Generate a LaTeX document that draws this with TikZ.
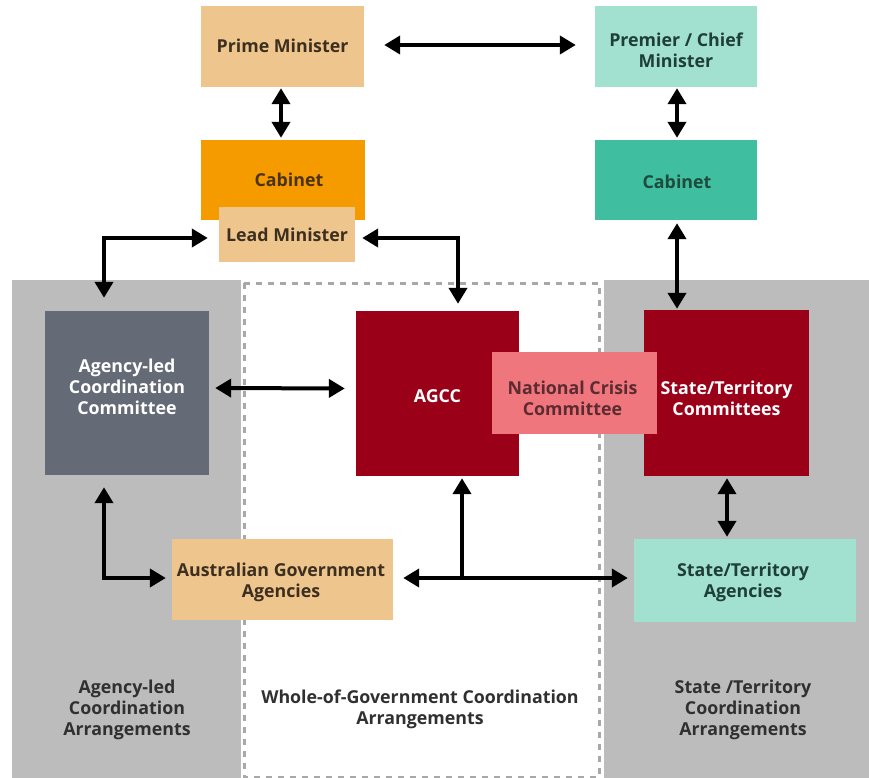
\documentclass[tikz,border=0pt]{standalone}
\usepackage{fontspec}
\setmainfont{Open Sans}
\usetikzlibrary{arrows.meta}
\definecolor{tanfill}{HTML}{EEC68D}
\definecolor{tantext}{HTML}{3C2F20}
\definecolor{mintfill}{HTML}{A2E0D0}
\definecolor{minttext}{HTML}{1E3F37}
\definecolor{orangefill}{HTML}{F59B00}
\definecolor{orangetext}{HTML}{4B3214}
\definecolor{tealfill}{HTML}{3FBF9F}
\definecolor{tealtext}{HTML}{1F4A3E}
\definecolor{panelgray}{HTML}{BCBCBC}
\definecolor{dashgray}{HTML}{A8A8A8}
\definecolor{slatefill}{HTML}{646B76}
\definecolor{redfill}{HTML}{9A0018}
\definecolor{pinkfill}{HTML}{F0767E}
\definecolor{pinktext}{HTML}{5B2B30}
\definecolor{labeltext}{HTML}{303030}
\begin{document}
\begin{tikzpicture}[x=1pt,y=-1pt,
  box/.style={draw=none, inner sep=0pt},
  txt/.style={inner sep=0pt, align=center, font=\bfseries\fontsize{17.8}{21}\selectfont},
  lbl/.style={txt, text=labeltext},
  arr/.style={line width=4pt, {Triangle[length=16pt,width=18pt]}-{Triangle[length=16pt,width=18pt]}},
  onearr/.style={line width=4pt, -{Triangle[length=16pt,width=18pt]}},
  panel/.style={fill=panelgray},
  dashbox/.style={draw=dashgray, line width=3pt, dash pattern=on 6pt off 6pt}
  ]
\useasboundingbox (0,0) rectangle (869,778);
% background panels
\fill[panel] (12,280) rectangle (241,778);
\fill[panel] (604,280) rectangle (869,778);
\draw[dashbox] (244,283) rectangle (599,777);
% boxes
\node[box, fill=tanfill, minimum width=163pt, minimum height=81pt] (pm) at (282.5,46.5) {};
\node[txt, text=tantext] (pmT) at (282.5,46) {Prime Minister};
\node[box, fill=mintfill, minimum width=162pt, minimum height=81pt] (prem) at (676,46.5) {};
\node[txt, text=minttext] (premT) at (676,50) {Premier / Chief\\Minister};
\node[box, fill=orangefill, minimum width=164pt, minimum height=80pt] (cabL) at (283,180) {};
\node[txt, text=orangetext] (cabLT) at (289,180) {Cabinet};
\node[box, fill=tanfill, minimum width=136pt, minimum height=55pt] (lead) at (287,234.5) {};
\node[txt, text=tantext] (leadT) at (287,235) {Lead Minister};
\node[box, fill=tealfill, minimum width=162pt, minimum height=80pt] (cabR) at (676,180) {};
\node[txt, text=tealtext] (cabRT) at (677,182) {Cabinet};
\node[box, fill=slatefill, minimum width=164pt, minimum height=164pt] (alcc) at (127,393) {};
\node[txt, text=white] (alccT) at (127,387) {Agency-led\\Coordination\\Committee};
\node[box, fill=redfill, minimum width=163pt, minimum height=165pt] (agcc) at (437.5,393.5) {};
\node[txt, text=white] (agccT) at (437.5,396) {AGCC};
\node[box, fill=redfill, minimum width=165pt, minimum height=166pt] (stc) at (726.5,393) {};
\node[txt, text=white] (stcT) at (726.5,398) {State/Territory\\Committees};
\node[box, fill=pinkfill, minimum width=165pt, minimum height=82pt] (ncc) at (574.5,393) {};
\node[txt, text=pinktext] (nccT) at (572.5,398.5) {National Crisis\\Committee};
\node[box, fill=tanfill, minimum width=221pt, minimum height=81pt] (aga) at (282.5,579.5) {};
\node[txt, text=tantext] (agaT) at (281,582.5) {Australian Government\\Agencies};
\node[box, fill=mintfill, minimum width=222pt, minimum height=83pt] (sta) at (745,580.5) {};
\node[txt, text=minttext] (staT) at (743,582.5) {State/Territory\\Agencies};
% bottom labels
\node[lbl] (l1) at (127,710) {Agency-led\\Coordination\\Arrangements};
\node[lbl] (l2) at (420,709.5) {Whole-of-Government Coordination\\Arrangements};
\node[lbl] (l3) at (743,710) {State /Territory\\Coordination\\Arrangements};
% connectors
\draw[arr, shorten <=20pt, shorten >=19pt] ([yshift=1.5pt]pm.east) -- ([yshift=1.5pt]prem.west);
\draw[arr, shorten <=1pt, shorten >=2pt] ([xshift=-1.5pt]pm.south) -- ([xshift=-2pt]cabL.north);
\draw[arr, shorten <=1pt, shorten >=2pt] ([xshift=1pt]prem.south) -- ([xshift=1pt]cabR.north);
\draw[arr, shorten <=3pt, shorten >=1pt] ([xshift=1pt]cabR.south) -- ([xshift=1pt]cabR.south |- stc.north);
\draw[arr, shorten <=11pt, shorten >=13pt] ([yshift=-3.5pt]lead.west) -| ([xshift=-23pt]alcc.north);
\draw[arr, shorten <=7pt, shorten >=7pt] ([yshift=-3.5pt]lead.east) -| ([xshift=20.5pt]agcc.north);
\draw[arr, shorten <=6pt, shorten >=11pt] ([yshift=5pt]alcc.east) -- ([yshift=5pt]agcc.west);
\draw[arr, shorten <=12pt, shorten >=6pt] ([xshift=-23pt]alcc.south) |- ([yshift=1.5pt]aga.west);
\draw[arr, shorten <=10pt, shorten >=6pt] ([yshift=1.5pt]aga.east) -- ([yshift=2.5pt]sta.west);
\coordinate (j) at (462,580);
\draw[onearr, shorten >=2pt] (j) -- ([xshift=24.5pt]agcc.south);
\draw[arr, shorten <=2pt, shorten >=2pt] ([xshift=0.5pt]stc.south) -- ([xshift=0.5pt]stc.south |- sta.north);
\end{tikzpicture}
\end{document}
